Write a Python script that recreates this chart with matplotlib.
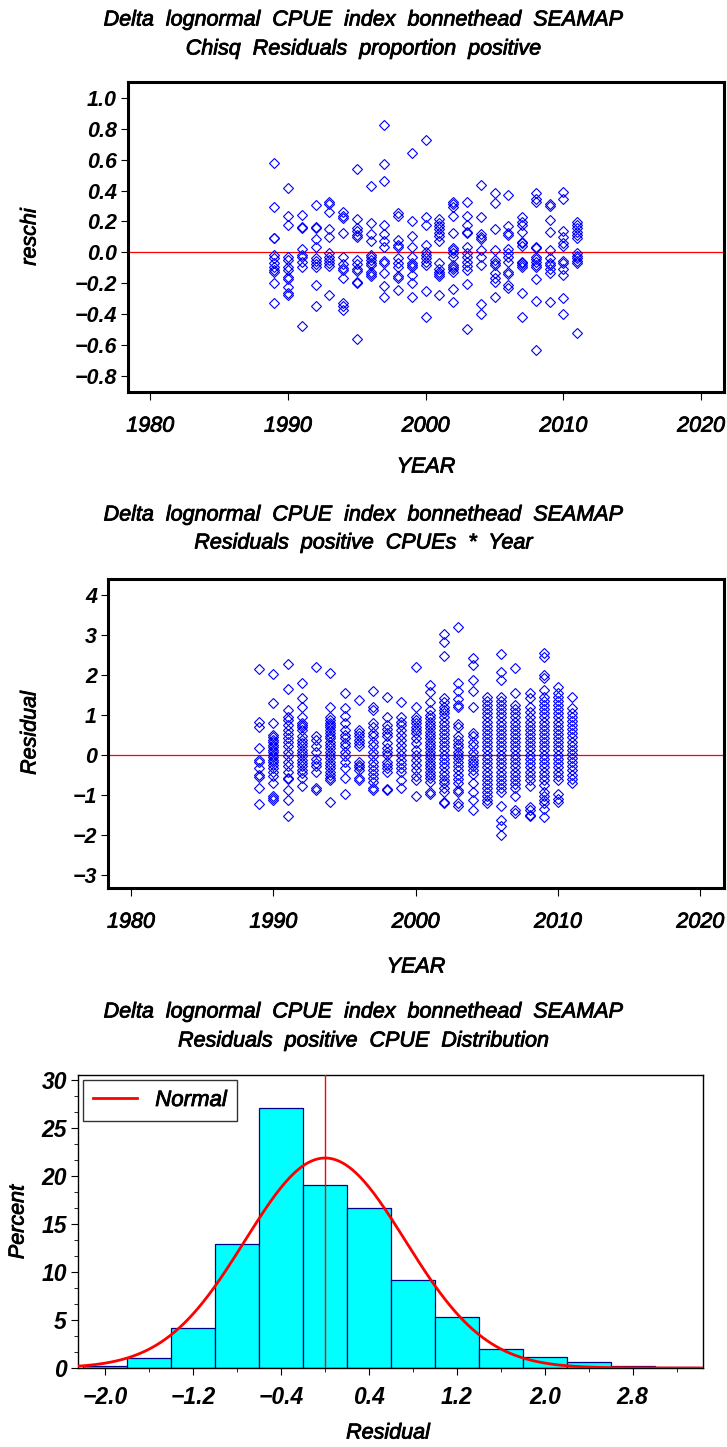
import numpy as np
import matplotlib
matplotlib.use("Agg")
import matplotlib.pyplot as plt
import matplotlib.patheffects as pe
from matplotlib.ticker import MultipleLocator, FixedLocator

plt.rcParams['font.family'] = ['Liberation Sans', 'DejaVu Sans']
plt.rcParams['font.style'] = 'italic'

# ---- data ----
years = [1989, 1990, 1991, 1992, 1993, 1994, 1995, 1996, 1997, 1998, 1999, 2000,
         2001, 2002, 2003, 2004, 2005, 2006, 2007, 2008, 2009, 2010, 2011]

# chisq residuals, proportion positive (one list per year)
reschi = [
    [0.58, 0.295, 0.095, 0.09, -0.017, -0.039, -0.071, -0.093, -0.114, -0.13, -0.2, -0.326],
    [0.414, 0.237, 0.177, -0.028, -0.05, -0.093, -0.114, -0.157, -0.175, -0.222, -0.261, -0.276],
    [0.241, 0.166, 0.155, 0.019, -0.017, -0.028, -0.06, -0.093, -0.476],
    [0.306, 0.166, 0.155, 0.084, 0.032, -0.039, -0.054, -0.075, -0.093, -0.211, -0.351],
    [0.328, 0.31, 0.263, 0.149, 0.101, -0.006, -0.028, -0.05, -0.071, -0.088, -0.276],
    [0.263, 0.235, 0.22, 0.127, -0.028, -0.075, -0.103, -0.114, -0.168, -0.33, -0.351, -0.373],
    [0.537, 0.218, 0.155, 0.14, 0.112, 0.097, -0.05, -0.075, -0.106, -0.121, -0.19, -0.2, -0.563],
    [0.429, 0.188, 0.119, 0.075, -0.017, -0.032, -0.05, -0.067, -0.082, -0.125, -0.14, -0.153],
    [0.824, 0.569, 0.459, 0.177, 0.119, 0.075, 0.037, -0.056, -0.071, -0.136, -0.218, -0.291],
    [0.252, 0.235, 0.08, 0.047, 0.032, -0.039, -0.067, -0.093, -0.153, -0.168, -0.244],
    [0.64, 0.205, 0.106, 0.032, -0.028, -0.067, -0.082, -0.097, -0.149, -0.2, -0.291],
    [0.727, 0.231, 0.177, 0.047, 0.004, -0.017, -0.04, -0.06, -0.08, -0.254, -0.42],
    [0.213, 0.192, 0.17, 0.149, 0.127, 0.106, 0.073, -0.071, -0.11, -0.125, -0.14, -0.151, -0.276],
    [0.328, 0.313, 0.295, 0.237, 0.123, 0.026, 0.015, -0.002, -0.028, -0.082, -0.093, -0.11, -0.125, -0.239, -0.319],
    [0.328, 0.235, 0.177, 0.134, 0.127, 0.037, -0.006, -0.032, -0.06, -0.088, -0.114, -0.205, -0.498],
    [0.436, 0.226, 0.119, 0.101, 0.084, 0.015, -0.028, -0.082, -0.334, -0.399],
    [0.386, 0.321, 0.149, 0.015, -0.05, -0.067, -0.082, -0.136, -0.168, -0.19, -0.287],
    [0.371, 0.17, 0.127, 0.112, 0.019, -0.006, -0.028, -0.06, -0.125, -0.14, -0.211, -0.233],
    [0.231, 0.198, 0.177, 0.134, 0.069, 0.058, 0.041, -0.06, -0.071, -0.082, -0.093, -0.265, -0.42],
    [0.382, 0.343, 0.328, 0.037, 0.026, -0.028, -0.045, -0.06, -0.082, -0.097, -0.175, -0.313, -0.632],
    [0.313, 0.3, 0.209, 0.134, 0.015, -0.039, -0.071, -0.082, -0.11, -0.136, -0.319],
    [0.392, 0.343, 0.14, 0.097, 0.058, 0.041, -0.054, -0.071, -0.11, -0.147, -0.298, -0.399],
    [0.198, 0.177, 0.155, 0.134, 0.112, 0.091, -0.006, -0.024, -0.039, -0.054, -0.071, -0.524],
]

# residuals of positive CPUEs (one list per year)
resid = [
    [2.14, 0.83, 0.71, 0.17, -0.12, -0.19, -0.33, -0.5, -0.56, -0.83, -1.22],
    [2.02, 1.31, 0.79, 0.5, 0.44, 0.37, 0.31, 0.25, 0.19, 0.12, 0.06, 0.0, -0.06, -0.12,
     -0.19, -0.25, -0.33, -0.42, -0.52, -0.71, -1.02, -1.08, -1.14],
    [2.27, 1.64, 1.12, 0.96, 0.87, 0.75, 0.62, 0.52, 0.42, 0.31, 0.21, 0.08, -0.04, -0.19,
     -0.29, -0.42, -0.58, -0.61, -0.87, -1.12, -1.54],
    [1.79, 1.42, 1.21, 0.96, 0.79, 0.75, 0.69, 0.62, 0.47, 0.37, 0.29, 0.21, 0.12, 0.04,
     -0.04, -0.12, -0.21, -0.29, -0.37, -0.46, -0.58, -0.77],
    [2.19, 0.46, 0.37, 0.21, 0.08, -0.11, -0.21, -0.29, -0.42, -0.83, -0.89],
    [2.04, 1.21, 0.96, 0.87, 0.81, 0.75, 0.69, 0.62, 0.54, 0.47, 0.42, 0.33, 0.25, 0.17,
     0.08, 0.0, -0.08, -0.17, -0.25, -0.33, -0.42, -0.5, -0.58, -0.62, -1.19],
    [1.56, 1.17, 0.97, 0.79, 0.62, 0.5, 0.42, 0.29, 0.21, 0.08, -0.04, -0.17, -0.33, -0.58, -0.97],
    [1.37, 0.62, 0.54, 0.46, 0.37, 0.29, 0.21, -0.19, -0.25, -0.31, -0.37, -0.58, -0.64],
    [1.61, 1.19, 1.12, 0.79, 0.71, 0.54, 0.46, 0.33, 0.21, 0.08, -0.04, -0.17, -0.29, -0.37,
     -0.47, -0.58, -0.67, -0.83, -0.89],
    [1.44, 0.96, 0.75, 0.64, 0.54, 0.46, 0.29, 0.17, 0.08, 0.0, -0.17, -0.25, -0.33, -0.42,
     -0.86, -0.89],
    [1.33, 0.96, 0.83, 0.75, 0.62, 0.5, 0.37, 0.25, 0.12, 0.0, -0.12, -0.22, -0.33, -0.42,
     -0.62, -0.83],
    [2.21, 1.21, 0.96, 0.87, 0.79, 0.71, 0.62, 0.54, 0.42, 0.29, 0.12, 0.0, -0.12, -0.25,
     -0.37, -0.52, -0.62, -1.04],
    [1.75, 1.58, 1.33, 1.12, 1.0, 0.92, 0.83, 0.75, 0.67, 0.58, 0.5, 0.42, 0.33, 0.25, 0.17,
     0.08, 0.0, -0.08, -0.17, -0.25, -0.33, -0.42, -0.5, -0.58, -0.67, -0.94, -0.97],
    [3.02, 2.83, 2.47, 1.42, 1.33, 1.21, 1.12, 1.04, 0.94, 0.83, 0.72, 0.62, 0.52, 0.42,
     0.31, 0.21, 0.11, 0.0, -0.11, -0.21, -0.31, -0.42, -0.52, -0.62, -0.71, -0.83, -0.94,
     -1.17, -1.21],
    [3.21, 1.81, 1.61, 1.39, 1.25, 1.19, 0.77, 0.71, 0.46, 0.36, 0.27, 0.19, 0.08, 0.0,
     -0.08, -0.19, -0.29, -0.39, -0.5, -0.61, -0.71, -0.87, -0.94, -1.21, -1.27],
    [2.42, 2.25, 1.87, 1.61, 1.19, 0.56, 0.46, 0.33, 0.21, 0.08, -0.04, -0.12, -0.21, -0.29,
     -0.39, -0.47, -0.71, -0.94, -1.12, -1.37],
    [1.46, 1.36, 1.25, 1.14, 1.04, 0.94, 0.83, 0.72, 0.62, 0.52, 0.42, 0.31, 0.21, 0.11,
     0.0, -0.11, -0.21, -0.31, -0.42, -0.52, -0.62, -0.72, -0.83, -0.94, -1.04, -1.14, -1.21],
    [2.52, 2.08, 1.87, 1.46, 1.36, 1.25, 1.14, 1.04, 0.94, 0.83, 0.72, 0.62, 0.52, 0.42,
     0.31, 0.21, 0.11, 0.0, -0.11, -0.21, -0.31, -0.42, -0.52, -0.62, -0.72, -0.83, -0.94,
     -1.27, -1.64, -1.77, -2.0],
    [2.17, 1.54, 1.25, 1.14, 1.04, 0.94, 0.83, 0.72, 0.62, 0.52, 0.42, 0.31, 0.21, 0.11,
     0.0, -0.11, -0.21, -0.31, -0.42, -0.52, -0.62, -0.72, -0.83, -1.02, -1.39, -1.46],
    [1.56, 1.42, 1.19, 1.08, 0.96, 0.83, 0.72, 0.62, 0.52, 0.42, 0.31, 0.21, 0.11, 0.0,
     -0.11, -0.21, -0.31, -0.42, -0.52, -0.62, -0.77, -1.31, -1.37, -1.5, -1.54],
    [2.54, 2.44, 2.0, 1.92, 1.62, 1.46, 1.36, 1.25, 1.14, 1.04, 0.94, 0.83, 0.72, 0.62,
     0.52, 0.42, 0.31, 0.21, 0.11, 0.0, -0.11, -0.21, -0.31, -0.42, -0.52, -0.62, -0.75,
     -0.92, -1.02, -1.14, -1.21, -1.36, -1.56],
    [1.71, 1.56, 1.46, 1.36, 1.25, 1.14, 1.04, 0.94, 0.83, 0.72, 0.62, 0.52, 0.42, 0.31,
     0.21, 0.11, 0.0, -0.11, -0.21, -0.31, -0.42, -0.52, -0.64, -0.97, -1.11, -1.17],
    [1.44, 1.17, 1.06, 0.96, 0.86, 0.75, 0.64, 0.54, 0.44, 0.33, 0.22, 0.12, 0.02, -0.08,
     -0.19, -0.29, -0.39, -0.5, -0.61, -0.71],
]

# histogram of positive CPUE residuals (bin midpoints, percent)
bin_mid = [-2.0, -1.6, -1.2, -0.8, -0.4, 0.0, 0.4, 0.8, 1.2, 1.6, 2.0, 2.4, 2.8, 3.2]
pct = [0.25, 1.05, 4.13, 12.9, 27.1, 19.1, 16.65, 9.12, 5.3, 1.98, 1.14, 0.62, 0.24, 0.1]
bin_w = 0.4
norm_mu = 0.0
norm_sigma = 0.73

W, H = 727, 1447
fig = plt.figure(figsize=(W / 100, H / 100), dpi=100)
heavy = [pe.withStroke(linewidth=0.6, foreground='black')]


def px_axes(l, t, r, b):
    return fig.add_axes([l / W, 1 - b / H, (r - l) / W, (b - t) / H])


def ftext(x, y, s, **kw):
    fig.text(x / W, 1 - y / H, s, ha='center', va='center', path_effects=heavy, **kw)


def flat(groups):
    xs, ys = [], []
    for yr, vals in zip(years, groups):
        xs += [yr] * len(vals)
        ys += vals
    return xs, ys


def year_panel(ax, groups, ylim, yticks, fmt):
    xs, ys = flat(groups)
    ax.axhline(0, color='red', lw=0.9, zorder=1)
    ax.plot(xs, ys, ls='none', marker='D', ms=5.2, mfc='none', mec='blue', mew=0.8, zorder=2)
    ax.set_xlim(1978.38, 2021.66)
    ax.set_ylim(*ylim)
    ax.set_xticks([1980, 1990, 2000, 2010, 2020])
    ax.set_yticks(yticks)
    ax.set_yticklabels([(fmt % v).replace('-', '\u2212') for v in yticks])
    for s in ax.spines.values():
        s.set_linewidth(2.2)
    ax.tick_params(axis='x', direction='out', length=6, width=0.8, pad=11, labelsize=15.5)
    ax.tick_params(axis='y', direction='out', length=5, width=0.8, pad=3, labelsize=15.5)
    for lab in ax.get_yticklabels():
        lab.set_fontweight('bold')
    for lab in ax.get_xticklabels():
        lab.set_path_effects(heavy)


title1 = 'Delta  lognormal  CPUE  index  bonnethead  SEAMAP'

# ---- panel 1 ----
ax1 = px_axes(128, 82, 724, 392)
year_panel(ax1, reschi, (-0.905, 1.103),
           [-0.8, -0.6, -0.4, -0.2, 0.0, 0.2, 0.4, 0.6, 0.8, 1.0], '%.1f')
ftext(363.5, 20, title1, fontsize=15.5)
ftext(363.5, 49, 'Chisq  Residuals  proportion  positive', fontsize=15.5)
ftext(426, 467, 'YEAR', fontsize=15.5)
ftext(30, 237, 'reschi', fontsize=15.5, rotation=90)

# ---- panel 2 ----
ax2 = px_axes(108, 579, 724, 888)
year_panel(ax2, resid, (-3.33, 4.4), [-3, -2, -1, 0, 1, 2, 3, 4], '%d')
ftext(363.5, 515, title1, fontsize=15.5)
ftext(363.5, 543, 'Residuals  positive  CPUEs  *  Year', fontsize=15.5)
ftext(416, 967, 'YEAR', fontsize=15.5)
ftext(30, 733, 'Residual', fontsize=15.5, rotation=90)

# ---- panel 3: histogram ----
ax3 = px_axes(78, 1075, 703, 1368)
ax3.bar(bin_mid, pct, width=bin_w, color='cyan', edgecolor='#00008b', lw=0.9, zorder=2)
xx = np.linspace(-2.25, 3.44, 400)
yy = 100 * bin_w / (norm_sigma * np.sqrt(2 * np.pi)) * np.exp(-0.5 * ((xx - norm_mu) / norm_sigma) ** 2)
ax3.plot(xx, yy, color='red', lw=2, zorder=3, label='Normal')
ax3.axvline(norm_mu, color='red', lw=1.0, zorder=4)
ax3.set_xlim(-2.25, 3.44)
ax3.set_ylim(0, 30.5)
hx = [-2.0, -1.2, -0.4, 0.4, 1.2, 2.0, 2.8]
ax3.xaxis.set_major_locator(FixedLocator(hx))
ax3.set_xticklabels([('%.1f' % v).replace('-', '\u2212') for v in hx])
ax3.xaxis.set_minor_locator(FixedLocator([-1.6, -0.8, 0.0, 0.8, 1.6, 2.4, 3.2]))
ax3.yaxis.set_major_locator(MultipleLocator(5))
ax3.yaxis.set_minor_locator(MultipleLocator(5 / 3))
for s in ax3.spines.values():
    s.set_linewidth(1.0)
ax3.tick_params(which='major', direction='out', length=5, width=0.8, labelsize=16.5, pad=8)
ax3.tick_params(which='minor', direction='out', length=3, width=0.6)
ax3.tick_params(axis='y', pad=3)
for lab in ax3.get_xticklabels() + ax3.get_yticklabels():
    lab.set_fontweight('bold')
leg = ax3.legend(loc='upper left', fontsize=16, frameon=True, fancybox=False,
                 edgecolor='black', handlelength=2.0, borderpad=0.45, borderaxespad=0,
                 bbox_to_anchor=(5 / 625, 1 - 5 / 293))
leg.get_frame().set_linewidth(1.0)
for t in leg.get_texts():
    t.set_path_effects(heavy)
ftext(363.5, 1012, title1, fontsize=15.5)
ftext(363.5, 1041, 'Residuals  positive  CPUE  Distribution', fontsize=15.5)
ftext(388, 1433, 'Residual', fontsize=15.5)
ftext(18, 1222, 'Percent', fontsize=15.5, rotation=90)

fig.savefig('out.png', dpi=100)
